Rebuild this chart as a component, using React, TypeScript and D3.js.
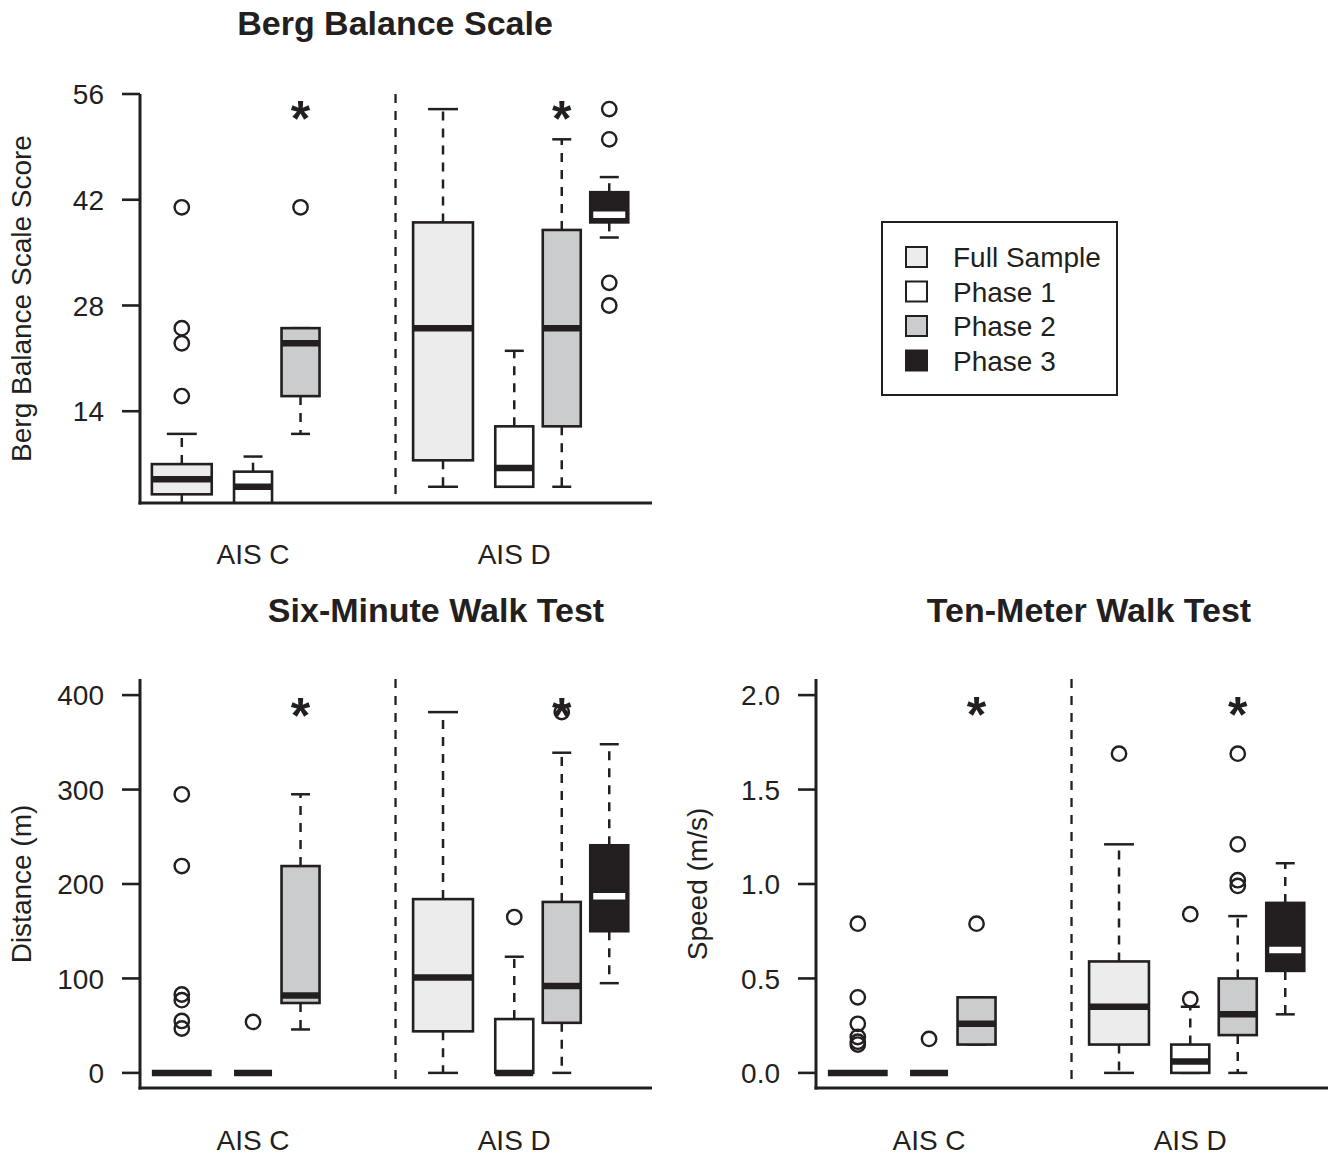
import React from "react";
import * as d3 from "d3";

// ---------- DATA ----------
const groups = ["AIS C", "AIS D"];
const seriesNames = ["Full Sample", "Phase 1", "Phase 2", "Phase 3"];
const seriesFill = ["#ececec", "#ffffff", "#cbcccd", "#231f20"];
const medianColor = ["#231f20", "#231f20", "#231f20", "#ffffff"];

// Box stats: [lower whisker, Q1, median, Q3, upper whisker]
// order: AIS C (Full, P1, P2, P3), AIS D (Full, P1, P2, P3); null = no box
const bergStats: (number[] | null)[] = [
  [0, 3, 5, 7, 11],
  [0, 1, 4, 6, 8],
  [11, 16, 23, 25, 25],
  null,
  [4, 7.5, 25, 39, 54],
  [4, 4, 6.5, 12, 22],
  [4, 12, 25, 38, 50],
  [37, 39, 40, 43, 45],
];
const bergOutliers: number[][] = [
  [41, 25, 23, 16],
  [],
  [41],
  [],
  [],
  [],
  [],
  [54, 50, 31, 28],
];
const bergTicks = [14, 28, 42, 56];

const walkStats: (number[] | null)[] = [
  [0, 0, 0, 0, 0],
  [0, 0, 0, 0, 0],
  [46, 74, 82, 219, 295],
  null,
  [0, 44, 101, 184, 382],
  [0, 0, 0, 57, 123],
  [0, 53, 92, 181, 339],
  [95, 150, 187, 241, 348],
];
const walkOutliers: number[][] = [
  [295, 219, 83, 77, 55, 47],
  [54],
  [],
  [],
  [],
  [165],
  [382],
  [],
];
const walkTicks = [0, 100, 200, 300, 400];

const tenStats: (number[] | null)[] = [
  [0, 0, 0, 0, 0],
  [0, 0, 0, 0, 0],
  [0.15, 0.15, 0.26, 0.4, 0.4],
  null,
  [0, 0.15, 0.35, 0.59, 1.21],
  [0, 0, 0.06, 0.15, 0.35],
  [0, 0.2, 0.31, 0.5, 0.83],
  [0.31, 0.54, 0.65, 0.9, 1.11],
];
const tenOutliers: number[][] = [
  [0.79, 0.4, 0.26, 0.19, 0.165, 0.15],
  [0.18],
  [0.79],
  [],
  [1.69],
  [0.39, 0.84],
  [1.69, 1.21, 1.02, 0.99],
  [],
];
const tenTicks = [0, 0.5, 1.0, 1.5, 2.0];

// significance stars: [box index, y value]
const bergStars = [[2, 53.9], [6, 53.9]];
const walkStars = [[2, 387], [6, 387]];
const tenStars = [[2, 1.94], [6, 1.94]];

// ---------- LAYOUT ----------
const INK = "#231f20";
const FONT = "'Liberation Sans', Arial, Helvetica, sans-serif";
const inGroup = [0, 1.5, 2.5, 3.5];
const groupOffset = 5.5;
const unitPos = (i: number) => Math.floor(i / 4) * groupOffset + inGroup[i % 4];

type Panel = {
  id: string;
  title: string;
  ylab: string;
  stats: (number[] | null)[];
  outliers: number[][];
  ticks: number[];
  fmt: (v: number) => string;
  yDomain: [number, number];
  top: number;
  bottom: number;
  axisTop: number;
  x0: number;
  titleX: number;
  titleY: number;
  ylabX: number;
  stars: number[][];
  xlabY: number;
};

const panels: Panel[] = [
  {
    id: "berg",
    title: "Berg Balance Scale",
    ylab: "Berg Balance Scale Score",
    stats: bergStats,
    outliers: bergOutliers,
    ticks: bergTicks,
    fmt: (v) => String(v),
    yDomain: [1.85, 56],
    top: 94,
    bottom: 503,
    axisTop: 94,
    x0: 140,
    titleX: 395,
    titleY: 35,
    ylabX: 31,
    stars: bergStars,
    xlabY: 564,
  },
  {
    id: "walk",
    title: "Six-Minute Walk Test",
    ylab: "Distance (m)",
    stats: walkStats,
    outliers: walkOutliers,
    ticks: walkTicks,
    fmt: (v) => String(v),
    yDomain: [-16, 416],
    top: 680,
    bottom: 1088,
    axisTop: 679,
    x0: 140,
    titleX: 436,
    titleY: 622,
    ylabX: 31,
    stars: walkStars,
    xlabY: 1150,
  },
  {
    id: "ten",
    title: "Ten-Meter Walk Test",
    ylab: "Speed (m/s)",
    stats: tenStats,
    outliers: tenOutliers,
    ticks: tenTicks,
    fmt: (v) => d3.format(".1f")(v),
    yDomain: [-0.08, 2.08],
    top: 680,
    bottom: 1088,
    axisTop: 679,
    x0: 816,
    titleX: 1089,
    titleY: 622,
    ylabX: 707,
    stars: tenStars,
    xlabY: 1150,
  },
];

const PanelView = ({ p }: { p: Panel }) => {
  const x = d3.scaleLinear().domain([-0.88, 9.9]).range([p.x0, p.x0 + 512]);
  const y = d3.scaleLinear().domain(p.yDomain).range([p.bottom, p.top]);
  const clipId = `clip-${p.id}`;
  const unit = x(1) - x(0);
  const boxW = (i: number) => (i % 4 === 0 ? 1.26 : 0.8) * unit;
  return (
    <g>
      <defs>
        <clipPath id={clipId}>
          <rect x={p.x0} y={p.top - 20} width={512} height={p.bottom - p.top + 20} />
        </clipPath>
      </defs>
      <g clipPath={`url(#${clipId})`}>
        {p.stats.map((s, i) => {
          if (!s) return null;
          const cx = x(unitPos(i));
          const w = boxW(i);
          const [lo, q1, med, q3, hi] = s;
          const s4 = i % 4;
          return (
            <g key={i}>
              <line x1={cx} x2={cx} y1={y(q3)} y2={y(hi)} stroke={INK} strokeWidth={2.5} strokeDasharray="9,8" />
              <line x1={cx} x2={cx} y1={y(q1)} y2={y(lo)} stroke={INK} strokeWidth={2.5} strokeDasharray="9,8" />
              <line x1={cx - w / 4} x2={cx + w / 4} y1={y(hi)} y2={y(hi)} stroke={INK} strokeWidth={2.5} />
              <line x1={cx - w / 4} x2={cx + w / 4} y1={y(lo)} y2={y(lo)} stroke={INK} strokeWidth={2.5} />
              <rect
                x={cx - w / 2}
                y={y(q3)}
                width={w}
                height={Math.max(0, y(q1) - y(q3))}
                fill={seriesFill[s4]}
                stroke={INK}
                strokeWidth={2.6}
              />
              <line
                x1={cx - w / 2 + (s4 === 3 ? 3 : 0)}
                x2={cx + w / 2 - (s4 === 3 ? 3 : 0)}
                y1={y(med)}
                y2={y(med)}
                stroke={medianColor[s4]}
                strokeWidth={6.5}
              />
              {p.outliers[i].map((o, k) => (
                <circle key={k} cx={cx} cy={y(o)} r={7.2} fill="none" stroke={INK} strokeWidth={2.4} />
              ))}
            </g>
          );
        })}
        <line
          x1={x(4.5)}
          x2={x(4.5)}
          y1={p.axisTop}
          y2={p.bottom}
          stroke={INK}
          strokeWidth={2.3}
          strokeDasharray="9,8"
        />
      </g>
      {/* axes */}
      <line x1={p.x0} x2={p.x0} y1={p.axisTop} y2={p.bottom + 1.5} stroke={INK} strokeWidth={3} />
      <line x1={p.x0 - 1.5} x2={p.x0 + 512} y1={p.bottom} y2={p.bottom} stroke={INK} strokeWidth={3} />
      {p.ticks.map((t) => (
        <g key={t}>
          <line x1={p.x0 - 18} x2={p.x0} y1={y(t)} y2={y(t)} stroke={INK} strokeWidth={2.6} />
          <text
            x={p.x0 - 36}
            y={y(t)}
            dy="0.36em"
            textAnchor="end"
            fontSize={28}
            fontFamily={FONT}
            fill={INK}
          >
            {p.fmt(t)}
          </text>
        </g>
      ))}
      {groups.map((g, gi) => (
        <text
          key={g}
          x={x(gi * groupOffset + 1.5)}
          y={p.xlabY}
          textAnchor="middle"
          fontSize={28}
          fontFamily={FONT}
          fill={INK}
        >
          {g}
        </text>
      ))}
      <text
        transform={`translate(${p.ylabX},${(p.top + p.bottom) / 2}) rotate(-90)`}
        textAnchor="middle"
        fontSize={28}
        fontFamily={FONT}
        fill={INK}
      >
        {p.ylab}
      </text>
      <text
        x={p.titleX}
        y={p.titleY}
        textAnchor="middle"
        fontSize={34}
        fontWeight="bold"
        fontFamily={FONT}
        fill={INK}
      >
        {p.title}
      </text>
      {p.stars.map(([bi, v], k) => (
        <text
          key={k}
          x={x(unitPos(bi))}
          y={y(v) + 26}
          textAnchor="middle"
          fontSize={50}
          fontWeight="bold"
          fontFamily={FONT}
          fill={INK}
        >
          *
        </text>
      ))}
    </g>
  );
};

const Legend = () => {
  const lx = 882;
  const ly = 222;
  return (
    <g>
      <rect x={lx} y={ly} width={235} height={173} fill="#fff" stroke={INK} strokeWidth={2} />
      {seriesNames.map((name, i) => {
        const cy = 257 + i * 34.5;
        return (
          <g key={name}>
            <rect x={906} y={cy - 10} width={21} height={20} fill={seriesFill[i]} stroke={INK} strokeWidth={2} />
            <text x={953} y={cy} dy="0.36em" fontSize={28} fontFamily={FONT} fill={INK}>
              {name}
            </text>
          </g>
        );
      })}
    </g>
  );
};

export default function App() {
  return (
    <div style={{ position: "absolute", left: 0, top: 0, background: "#fff" }}>
      <svg width={1332} height={1155} style={{ display: "block" }}>
        <rect width={1332} height={1155} fill="#fff" />
        {panels.map((p) => (
          <PanelView key={p.id} p={p} />
        ))}
        <Legend />
      </svg>
    </div>
  );
}
